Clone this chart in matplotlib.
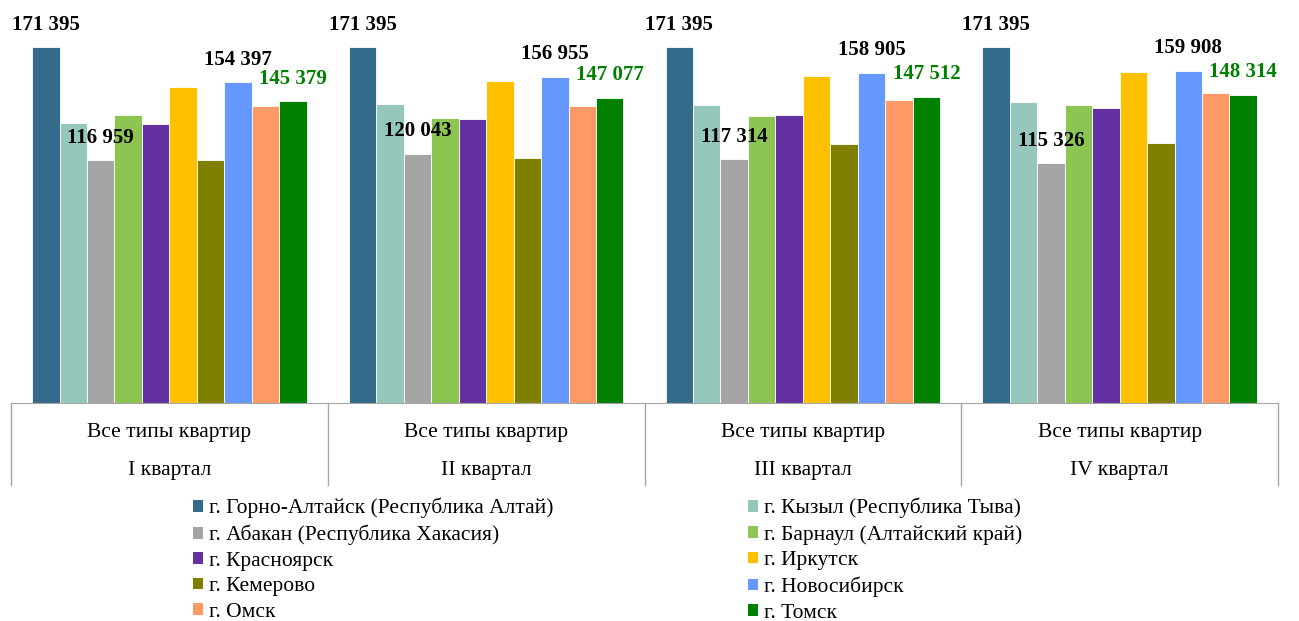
import matplotlib
matplotlib.use("Agg")
import matplotlib.pyplot as plt
import numpy as np
from matplotlib.patches import Patch

# Данные (руб. за кв. м)
QUARTERS = ["I квартал", "II квартал", "III квартал", "IV квартал"]
APT_TYPE = "Все типы квартир"
CITIES = [
    "г. Горно-Алтайск (Республика Алтай)",
    "г. Кызыл (Республика Тыва)",
    "г. Абакан (Республика Хакасия)",
    "г. Барнаул (Алтайский край)",
    "г. Красноярск",
    "г. Иркутск",
    "г. Кемерово",
    "г. Новосибирск",
    "г. Омск",
    "г. Томск",
]
gorno_altaisk = [171395, 171395, 171395, 171395]
kyzyl = [134800, 144100, 143450, 144750]
abakan = [116959, 120043, 117314, 115326]
barnaul = [138650, 137050, 138300, 143450]
krasnoyarsk = [134300, 136700, 138650, 142000]
irkutsk = [152150, 154900, 157600, 159350]
kemerovo = [117000, 117800, 124700, 125350]
novosibirsk = [154397, 156955, 158905, 159908]
omsk = [143000, 143150, 146000, 149100]
tomsk = [145379, 147077, 147512, 148314]

SERIES = [gorno_altaisk, kyzyl, abakan, barnaul, krasnoyarsk,
          irkutsk, kemerovo, novosibirsk, omsk, tomsk]
COLORS = ["#346B8A", "#96C7BC", "#A5A5A5", "#8CC551", "#6331A0",
          "#FFC000", "#808000", "#6699FF", "#FF9966", "#008000"]
LABELED = {0: "black", 2: "black", 7: "black", 9: "#008000"}

COLOR_AXIS = "#A6A6A6"
SERIF = "Liberation Serif"


def fmt(v):
    return f"{v:,}".replace(",", " ")


fig = plt.figure(figsize=(12.99, 6.21), dpi=100)
ax = fig.add_axes([11 / 1299, 218 / 621, 1267 / 1299, 398 / 621])

n = len(SERIES)
bar_w = 0.867 / n
x = np.arange(len(QUARTERS))
for i, (vals, color) in enumerate(zip(SERIES, COLORS)):
    pos = x - 0.867 / 2 + bar_w * (i + 0.5)
    ax.bar(pos, vals, width=bar_w, color=color, edgecolor="white",
           linewidth=0.6, label=CITIES[i])
    if i in LABELED:
        for px, v in zip(pos, vals):
            ax.annotate(fmt(v), (px, v), xytext=(0, 9), textcoords="offset points",
                        ha="center", va="bottom", fontsize=15, fontweight="bold",
                        family=SERIF, color=LABELED[i], annotation_clip=False)

ax.set_xlim(-0.5, len(QUARTERS) - 0.5)
ax.set_ylim(0, 171395 * 398 / 356)
for side in ["top", "right", "left"]:
    ax.spines[side].set_visible(False)
ax.spines["bottom"].set_color(COLOR_AXIS)
ax.set_xticks([])
ax.set_yticks([])

# Двухуровневая подпись категорий
xt = ax.get_xaxis_transform()
for b in np.arange(-0.5, len(QUARTERS), 1.0):
    ax.plot([b, b], [0, -82 / 398], transform=xt, color=COLOR_AXIS,
            linewidth=1, clip_on=False)
for i, q in enumerate(QUARTERS):
    ax.text(i, -29 / 398, APT_TYPE, transform=xt, ha="center", va="center",
            fontsize=15.5, family=SERIF)
    ax.text(i, -68 / 398, q, transform=xt, ha="center", va="center",
            fontsize=15.5, family=SERIF)

# Легенда в два столбца
handles = [Patch(facecolor=c, edgecolor="none") for c in COLORS]
for col, x0 in enumerate([193 / 1299, 748 / 1299]):
    leg = fig.legend(handles[col::2], CITIES[col::2], loc="upper left",
                     bbox_to_anchor=(x0, 123 / 621), frameon=False,
                     prop={"family": SERIF, "size": 15.5},
                     handlelength=0.45, handleheight=0.45, handletextpad=0.3,
                     labelspacing=0.3, borderaxespad=0, borderpad=0)

fig.savefig("out.png", dpi=100)
